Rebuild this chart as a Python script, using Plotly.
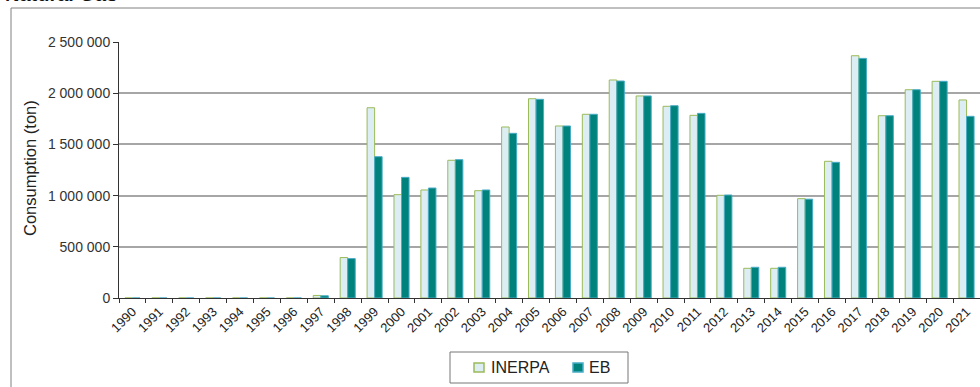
import plotly.graph_objects as go

years = [str(y) for y in range(1990, 2022)]
inerpa = [0, 0, 0, 0, 0, 0, 0, 25000, 395000, 1858000, 1009000, 1055000, 1345000, 1048000,
          1670000, 1946000, 1680000, 1794000, 2129000, 1973000, 1872000, 1784000, 1003000,
          290000, 290000, 970000, 1335000, 2366000, 1780000, 2034000, 2116000, 1934000]
eb = [0, 0, 0, 0, 0, 0, 0, 22000, 385000, 1380000, 1178000, 1074000, 1351000, 1055000,
      1608000, 1940000, 1680000, 1794000, 2119000, 1973000, 1878000, 1803000, 1006000,
      300000, 300000, 965000, 1325000, 2340000, 1780000, 2034000, 2116000, 1774000]
y_ticks = [0, 500000, 1000000, 1500000, 2000000, 2500000]
series_names = ["INERPA", "EB"]

W, H = 980, 387
L, R, T, B = 119, 0, 42, 89
pw, ph = W - L - R, H - T - B

def px(x):
    return (x - L) / pw

def py(y):
    return (H - B - y) / ph

FONT = "Liberation Sans, Arial, sans-serif"
FILL = ["#dcedf3", "#00827c"]
EDGE = ["#9bbb59", "#4aacc6"]

fig = go.Figure()
for name, vals, fc, ec in zip(series_names, [inerpa, eb], FILL, EDGE):
    fig.add_trace(go.Bar(x=years, y=vals, name=name, showlegend=False,
                         marker=dict(color=fc, line=dict(color=ec, width=1))))

fig.update_layout(
    width=W, height=H,
    margin=dict(l=L, r=R, t=T, b=B, autoexpand=False),
    paper_bgcolor="white", plot_bgcolor="white",
    barmode="group", bargap=0.44, bargroupgap=0,
    separators=". ",
    font=dict(family=FONT, color="#222"),
    showlegend=False,
)
fig.update_xaxes(type="category", range=[-0.5, len(years) - 0.5],
                 showline=True, linecolor="#333", linewidth=1,
                 ticks="outside", tickson="boundaries", ticklen=4, tickcolor="#333",
                 tickangle=-45, tickfont=dict(size=13, color="#222"), showgrid=False)
fig.update_yaxes(range=[0, 2500000], tickvals=y_ticks, tickformat=",d",
                 showline=True, linecolor="#333", linewidth=1,
                 ticks="outside", ticklen=5, tickcolor="#333",
                 tickfont=dict(size=14, color="#333"),
                 showgrid=True, gridcolor="#a6a6a6", gridwidth=1.5, zeroline=False)

# outer chart border
fig.add_shape(type="rect", xref="paper", yref="paper",
              x0=px(11), x1=px(990), y0=py(400), y1=py(8),
              line=dict(color="#808080", width=1), layer="below")
# title (partly cut at the top, as in the reference)
fig.add_annotation(text="<b>Natural Gas</b>", xref="paper", yref="paper",
                   x=px(3), y=py(7), xanchor="left", yanchor="bottom",
                   showarrow=False, font=dict(size=20, color="#111", family=FONT))
fig.add_annotation(text="Consumption (ton)", xref="paper", yref="paper",
                   x=px(30), y=py(168), xanchor="center", yanchor="middle",
                   textangle=-90, showarrow=False, font=dict(size=16.5, color="#222"))

# legend box
fig.add_shape(type="rect", xref="paper", yref="paper",
              x0=px(450), x1=px(628), y0=py(383), y1=py(352),
              line=dict(color="#777", width=1), fillcolor="white")
sym_x = [474, 573]
txt_x = [489, 587]
for name, fc, ec, sx, tx in zip(series_names, FILL, EDGE, sym_x, txt_x):
    fig.add_shape(type="rect", xref="paper", yref="paper",
                  x0=px(sx), x1=px(sx + 10), y0=py(372), y1=py(363),
                  line=dict(color=ec, width=1.5), fillcolor=fc)
    fig.add_annotation(text=name, xref="paper", yref="paper",
                       x=px(tx), y=py(367.5), xanchor="left", yanchor="middle",
                       showarrow=False, font=dict(size=16, color="#222"))

fig.write_html("out.html", config={"displayModeBar": False},
               post_script="document.body.style.margin='0';document.body.style.overflow='hidden';")
